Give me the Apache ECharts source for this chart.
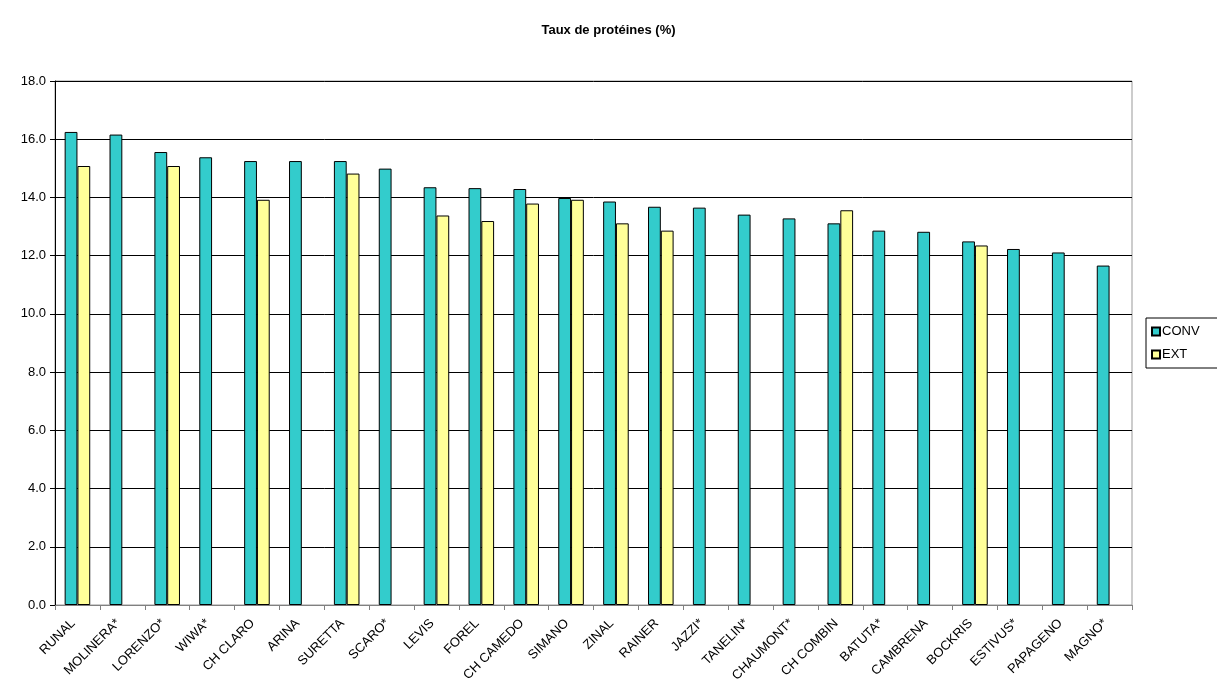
<!DOCTYPE html>
<html>
<head>
<meta charset="utf-8">
<script src="https://cdn.jsdelivr.net/npm/echarts@6/dist/echarts.min.js"></script>
<style>
html,body{margin:0;padding:0;background:#fff;}
#chart{width:1217px;height:700px;}
</style>
</head>
<body>
<div id="chart"></div>
<script>
const categories = ["RUNAL","MOLINERA*","LORENZO*","WIWA*","CH CLARO","ARINA","SURETTA","SCARO*","LEVIS","FOREL","CH CAMEDO","SIMANO","ZINAL","RAINER","JAZZI*","TANELIN*","CHAUMONT*","CH COMBIN","BATUTA*","CAMBRENA","BOCKRIS","ESTIVUS*","PAPAGENO","MAGNO*"];
const conv = [16.25,16.16,15.56,15.38,15.25,15.25,15.25,14.99,14.35,14.32,14.29,13.98,13.86,13.68,13.65,13.41,13.28,13.11,12.86,12.82,12.49,12.23,12.11,11.66];
const ext  = [15.08,null,15.08,null,13.92,null,14.82,null,13.38,13.19,13.79,13.92,13.11,12.86,null,null,null,13.56,null,null,12.35,null,null,null];
const yTicks = {min:0, max:18, interval:2};

const chart = echarts.init(document.getElementById('chart'));
chart.setOption({
  animation:false,
  backgroundColor:'#fff',
  textStyle:{fontFamily:'Liberation Sans, Arial, sans-serif'},
  title:{text:'Taux de protéines (%)', left:'center', top:19,
    textStyle:{fontSize:13, fontWeight:'bold', color:'#000', fontFamily:'Liberation Sans, Arial, sans-serif'}},
  legend:{orient:'vertical', left:1146, top:318, width:80,
    padding:[7,20,7,5], itemGap:10, itemWidth:8, itemHeight:8, icon:'rect',
    borderColor:'#000', borderWidth:1, backgroundColor:'#fff',
    textStyle:{fontSize:13, color:'#000', padding:[0,0,0,-3]},
    data:['CONV','EXT']},
  grid:{left:55, right:85, top:81, bottom:95, show:true, borderColor:'#999', borderWidth:1},
  xAxis:{type:'category', data:categories, boundaryGap:true,
    axisLine:{lineStyle:{color:'#808080', width:1}},
    axisTick:{show:true, length:5, lineStyle:{color:'#808080'}},
    axisLabel:{rotate:45, interval:0, fontSize:13, color:'#000', margin:12, padding:[0,6,0,0]}},
  yAxis:{type:'value', min:yTicks.min, max:yTicks.max, interval:yTicks.interval,
    axisLine:{show:true, lineStyle:{color:'#000'}},
    axisTick:{show:true, length:5, lineStyle:{color:'#000'}},
    axisLabel:{fontSize:13, color:'#000', formatter:v=>v.toFixed(1), margin:9},
    splitLine:{lineStyle:{color:'#000', width:1}}},
  series:[
    {name:'CONV', type:'bar', data:conv, barGap:'0%', barCategoryGap:'43%',
      itemStyle:{color:'#33CCCC', borderColor:'#000', borderWidth:1}},
    {name:'EXT', type:'bar', data:ext,
      itemStyle:{color:'#FFFF99', borderColor:'#000', borderWidth:1}}
  ]
});
</script>
</body>
</html>
